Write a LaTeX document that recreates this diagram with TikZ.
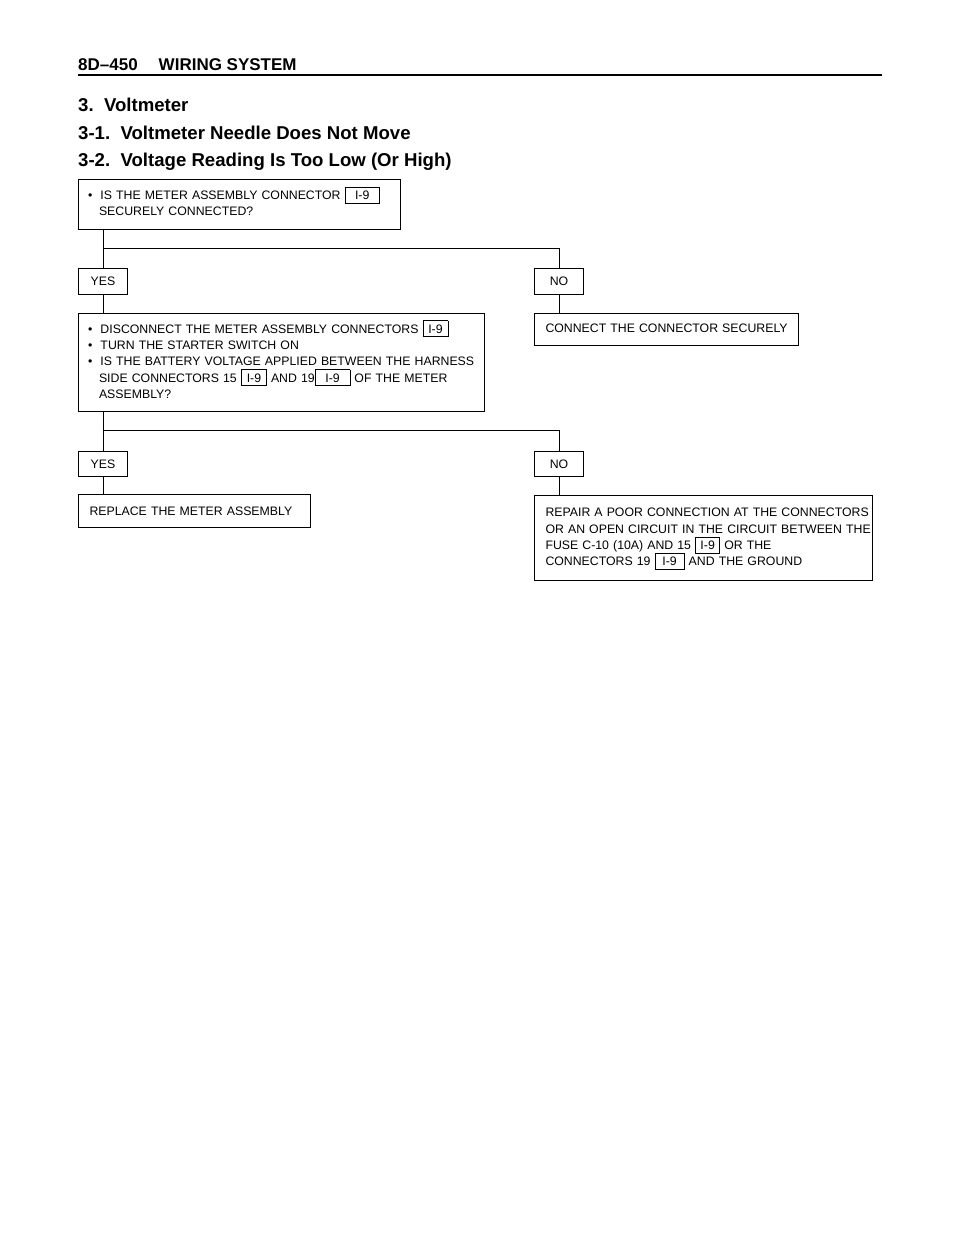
\documentclass[tikz,border=0pt]{standalone}
\usepackage{fontspec}
\setmainfont{Liberation Sans}
\usepackage{tikz}
\usetikzlibrary{positioning}
\newcommand{\bodyfont}{\fontsize{12.3}{16.3}\selectfont}
\newcommand{\headfont}{\fontsize{18.6}{23}\selectfont\bfseries}
\newcommand{\bul}{\makebox[11pt][l]{\hspace*{-1.5pt}\textbullet}}
\newcommand{\ind}{\hspace*{9.5pt}}
\newcommand{\conn}[2][19pt]{\smash{\setlength{\fboxsep}{0pt}\setlength{\fboxrule}{0.7pt}\fbox{\makebox[#1]{\rule[-3.3pt]{0pt}{15.4pt}#2}}}}
\tikzstyle{line} = [line width=1pt]
\tikzstyle{qbox} = [draw, line width=1pt, anchor=north west, align=left, inner xsep=11pt, inner ysep=0pt, font=\bodyfont]
\tikzstyle{ansbox} = [draw, line width=1pt, anchor=north west, minimum width=49pt, minimum height=26pt, inner sep=0pt, font=\bodyfont]

\begin{document}
\begin{tikzpicture}[x=1pt, y=-1pt]
\useasboundingbox (0,0) rectangle (960,1250);

% page header
\node[anchor=base west, inner sep=0pt, font=\fontsize{17}{20}\selectfont\bfseries] (page) at (78,70) {8D--450\hspace{21pt}WIRING SYSTEM};
\draw[line width=2pt] (78,75) -- (882,75);

% titles
\node[anchor=base west, inner sep=0pt, font=\headfont] (sec) at (78,111) {3.~~Voltmeter};
\node[anchor=base west, inner sep=0pt, font=\headfont] (sub1) at (78,139) {3-1.~~Voltmeter Needle Does Not Move};
\node[anchor=base west, inner sep=0pt, font=\headfont] (sub2) at (78,166) {3-2.~~Voltage Reading Is Too Low (Or High)};

% step 1
\node[qbox, text width=300pt, minimum height=50pt] (q1) at (78,179) {
\begin{tabular}{@{}l@{}}
\bul IS THE METER ASSEMBLY CONNECTOR \conn[33.6pt]{I-9}\\
\ind SECURELY CONNECTED?
\end{tabular}
};
\node[ansbox] (yes1) at (78,268) {YES};
\node[ansbox] (no1) at (534,268) {NO};
\coordinate (br1) at (102.5,248);

% step 2
\node[qbox, text width=384pt, minimum height=98pt] (q2) at (78,313) {
\begin{tabular}{@{}l@{}}
\bul DISCONNECT THE METER ASSEMBLY CONNECTORS \conn[24.4pt]{I-9}\\
\bul TURN THE STARTER SWITCH ON\\
\bul IS THE BATTERY VOLTAGE APPLIED BETWEEN THE HARNESS\\
\ind SIDE CONNECTORS 15 \conn[24.6pt]{I-9} AND 19\conn[34.2pt]{I-9} OF THE METER\\
\ind ASSEMBLY?
\end{tabular}
};
\node[qbox, text width=242pt, minimum height=32pt] (a1) at (534,313) {
\begin{tabular}{@{}l@{}}
CONNECT THE CONNECTOR SECURELY
\end{tabular}
};
\node[ansbox, minimum height=25pt] (yes2) at (78,451) {YES};
\node[ansbox, minimum height=25pt] (no2) at (534,451) {NO};
\coordinate (br2) at (102.5,430);

% results
\node[qbox, text width=210pt, minimum height=33pt] (a2) at (78,494) {REPLACE THE METER ASSEMBLY};
\node[qbox, text width=316pt, minimum height=85pt] (a3) at (534,495) {
\begin{tabular}{@{}l@{}}
REPAIR A POOR CONNECTION AT THE CONNECTORS\\
OR AN OPEN CIRCUIT IN THE CIRCUIT BETWEEN THE\\
FUSE C-10 (10A) AND 15 \conn[23.6pt]{I-9} OR THE\\
CONNECTORS 19 \conn[28.6pt]{I-9} AND THE GROUND
\end{tabular}
};

% connectors
\draw[line] (q1.south -| yes1.north) -- (yes1.north);
\draw[line] (br1) -| (no1.north);
\draw[line] (yes1.south) -- (yes1.south |- q2.north);
\draw[line] (no1.south) -- (no1.south |- a1.north);
\draw[line] (q2.south -| yes2.north) -- (yes2.north);
\draw[line] (br2) -| (no2.north);
\draw[line] (yes2.south) -- (yes2.south |- a2.north);
\draw[line] (no2.south) -- (no2.south |- a3.north);
\end{tikzpicture}
\end{document}
